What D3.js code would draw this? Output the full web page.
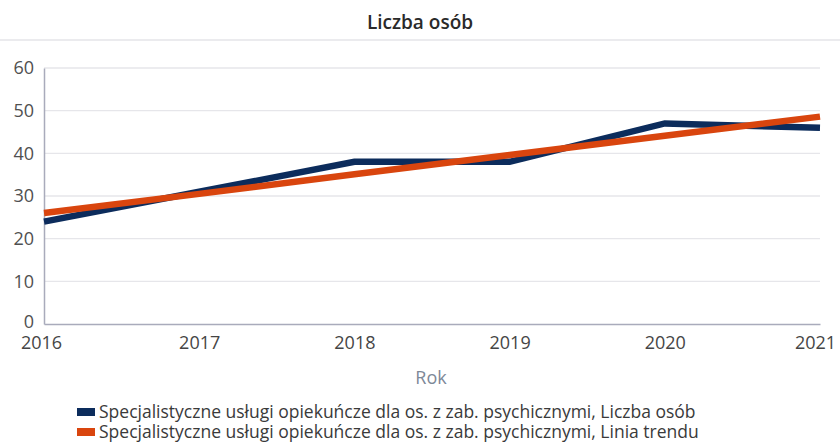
<!DOCTYPE html>
<html><head><meta charset="utf-8">
<script src="https://cdn.jsdelivr.net/npm/d3@7"></script>
<style>body{margin:0;background:#fff;} svg{display:block;font-family:"Open Sans",sans-serif;}</style>
</head><body>
<svg id="c" width="840" height="443"></svg>
<script>
const years = [2016, 2017, 2018, 2019, 2020, 2021];
const liczbaOsob = [24, 31, 38, 38, 47, 46];
const liniaTrendu = [26, 30.5, 35.1, 39.6, 44.1, 48.6];
const yTicks = [0, 10, 20, 30, 40, 50, 60];
const seriesNames = [
  "Specjalistyczne usługi opiekuńcze dla os. z zab. psychicznymi, Liczba osób",
  "Specjalistyczne usługi opiekuńcze dla os. z zab. psychicznymi, Linia trendu"
];
const colors = ["#0c2c5c", "#d9450e"];

const svg = d3.select("#c");
const x = d3.scaleLinear().domain([2016, 2021]).range([44, 820]);
const y = d3.scaleLinear().domain([0, 60]).range([324, 68]);

svg.append("text").attr("x", 420).attr("y", 29).attr("text-anchor", "middle")
  .attr("font-size", 19).attr("font-weight", 600).attr("fill", "#2a2a2a").text("Liczba osób");
svg.append("line").attr("x1", 0).attr("x2", 840).attr("y1", 40).attr("y2", 40)
  .attr("stroke", "#e4e4e8").attr("stroke-width", 1.5);

// gridlines
svg.append("g").selectAll("line").data(yTicks.filter(d => d > 0)).join("line")
  .attr("x1", 44).attr("x2", 820).attr("y1", d => y(d)).attr("y2", d => y(d))
  .attr("stroke", "#e6e6ea").attr("stroke-width", 1.3);

// y axis
const ya = svg.append("g").attr("transform", "translate(44,0)")
  .call(d3.axisLeft(y).tickValues(yTicks).tickSize(0).tickPadding(10));
ya.select(".domain").attr("stroke", "#a9abbb").attr("stroke-width", 1.5);
ya.selectAll("text").attr("font-size", 18).attr("fill", "#505050").attr("font-family", "Open Sans");
ya.selectAll(".tick").filter(d => d === 0).select("text").attr("dy", "0.2em");

// x axis
const xa = svg.append("g").attr("transform", "translate(0,324)")
  .call(d3.axisBottom(x).tickValues(years).tickFormat(d3.format("d")).tickSize(0).tickPadding(12));
xa.select(".domain").attr("stroke", "#a9abbb").attr("stroke-width", 1.5);
xa.selectAll("text").attr("font-size", 18).attr("fill", "#454545").attr("font-family", "Open Sans");
xa.selectAll(".tick").filter(d => d === 2016).select("text").attr("dx", -3);
xa.selectAll(".tick").filter(d => d === 2021).select("text").attr("dx", -5);

svg.append("text").attr("x", 431).attr("y", 384).attr("text-anchor", "middle")
  .attr("font-size", 18).attr("fill", "#7d8898").text("Rok");

const line = d3.line().x((d, i) => x(years[i])).y(d => y(d));
[liczbaOsob, liniaTrendu].forEach((s, k) => {
  svg.append("path").datum(s).attr("d", line).attr("fill", "none")
    .attr("stroke", colors[k]).attr("stroke-width", 6.5).attr("stroke-linejoin", "miter");
});

// legend
const lg = svg.append("g");
seriesNames.forEach((n, k) => {
  const yy = 412 + k * 20;
  lg.append("rect").attr("x", 77).attr("y", yy - 4).attr("width", 18).attr("height", 8).attr("fill", colors[k]);
  lg.append("text").attr("x", 99).attr("y", yy + 6).attr("font-size", 17.5).attr("fill", "#3a3a3a").text(n);
});
</script>
</body></html>
